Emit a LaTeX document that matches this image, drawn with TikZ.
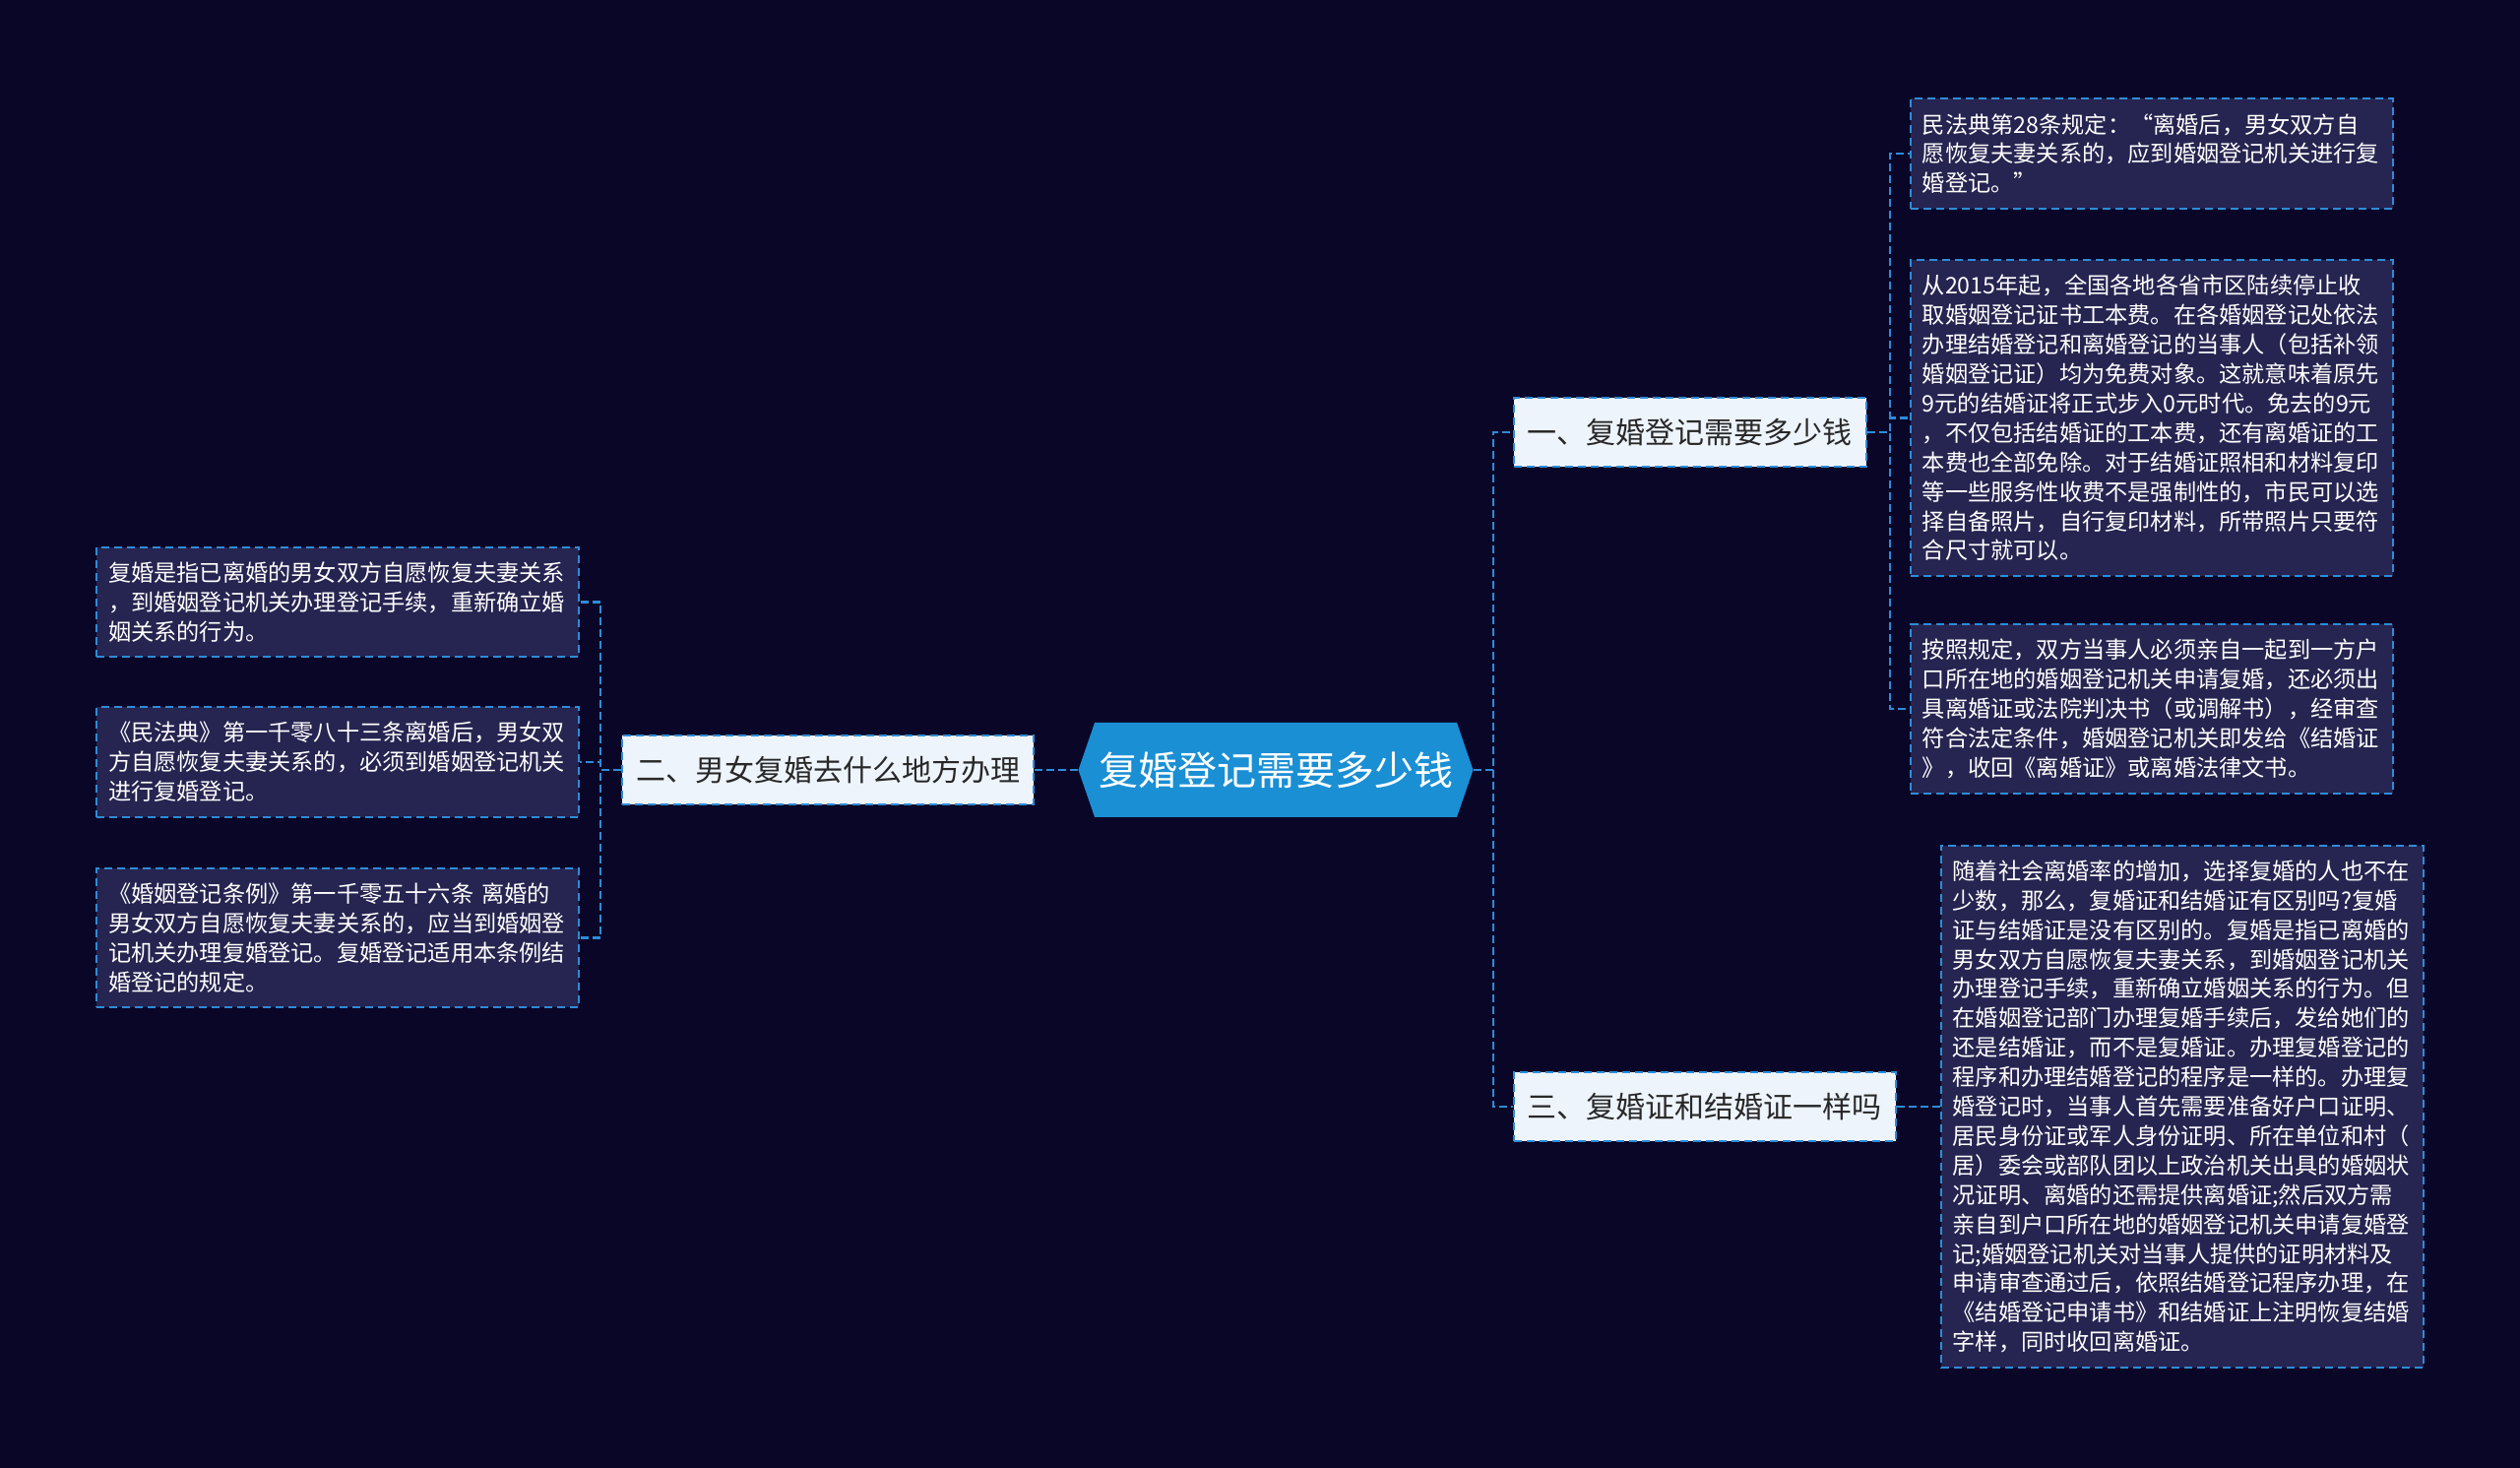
\documentclass[tikz,border=0pt]{standalone}
\usepackage{fontspec}
\newfontfamily\cjk{Noto Sans CJK SC}
\usetikzlibrary{positioning,shapes.symbols}

\definecolor{bgnavy}{RGB}{10,6,40}
\definecolor{leafbg}{RGB}{38,36,80}
\definecolor{linkblue}{RGB}{45,140,215}
\definecolor{rootblue}{RGB}{26,143,212}
\definecolor{branchbg}{RGB}{238,244,252}
\definecolor{branchtext}{RGB}{40,40,40}

\tikzset{
  root/.style={signal, signal to=west and east, signal pointer angle=142,
    fill=rootblue, text=white, font=\cjk\fontsize{20pt}{24pt}\selectfont,
    minimum width=200.5pt, minimum height=48pt, inner sep=0pt},
  branch/.style={draw=linkblue, dash pattern=on 4pt off 2.5pt, line width=0.9pt,
    fill=branchbg, text=branchtext, font=\cjk\fontsize{15pt}{18pt}\selectfont,
    minimum height=35pt, inner xsep=7pt, inner ysep=0pt},
  leaf/.style={draw=linkblue, dash pattern=on 4pt off 2.5pt, line width=0.9pt,
    fill=leafbg, text=white, font=\cjk\fontsize{11.6pt}{14.95pt}\selectfont,
    text width=233pt, align=left, inner xsep=6pt, inner ysep=7.5pt, anchor=west},
  link/.style={draw=linkblue, line width=1.1pt, dash pattern=on 4pt off 2pt},
}

\begin{document}
\begin{tikzpicture}[x=0.5pt,y=-0.5pt]
	\fill[bgnavy] (0,0) rectangle (2560,1491);
	\useasboundingbox (0,0) rectangle (2560,1491);

	\node[root]   (root) at (1296,782)                       {复婚登记需要多少钱};
	\node[branch] (b1) [right=20pt of root, yshift=171.5pt]  {一、复婚登记需要多少钱};
	\node[branch] (b2) [left=22pt of root]                   {二、男女复婚去什么地方办理};
	\node[branch] (b3) [right=20pt of root, yshift=-171pt]   {三、复婚证和结婚证一样吗};

	\node[leaf] (r1a) at (1940,156) {民法典第28条规定：“离婚后，男女双方自\\愿恢复夫妻关系的，应到婚姻登记机关进行复\\婚登记。”};
	\node[leaf] (r1b) at (1940,424.5) {从2015年起，全国各地各省市区陆续停止收\\取婚姻登记证书工本费。在各婚姻登记处依法\\办理结婚登记和离婚登记的当事人（包括补领\\婚姻登记证）均为免费对象。这就意味着原先\\9元的结婚证将正式步入0元时代。免去的9元\\，不仅包括结婚证的工本费，还有离婚证的工\\本费也全部免除。对于结婚证照相和材料复印\\等一些服务性收费不是强制性的，市民可以选\\择自备照片，自行复印材料，所带照片只要符\\合尺寸就可以。};
	\node[leaf] (r1c) at (1940,720) {按照规定，双方当事人必须亲自一起到一方户\\口所在地的婚姻登记机关申请复婚，还必须出\\具离婚证或法院判决书（或调解书），经审查\\符合法定条件，婚姻登记机关即发给《结婚证\\》，收回《离婚证》或离婚法律文书。};
	\node[leaf] (r3a) [right=22pt of b3] {随着社会离婚率的增加，选择复婚的人也不在\\少数，那么，复婚证和结婚证有区别吗?复婚\\证与结婚证是没有区别的。复婚是指已离婚的\\男女双方自愿恢复夫妻关系，到婚姻登记机关\\办理登记手续，重新确立婚姻关系的行为。但\\在婚姻登记部门办理复婚手续后，发给她们的\\还是结婚证，而不是复婚证。办理复婚登记的\\程序和办理结婚登记的程序是一样的。办理复\\婚登记时，当事人首先需要准备好户口证明、\\居民身份证或军人身份证明、所在单位和村（\\居）委会或部队团以上政治机关出具的婚姻状\\况证明、离婚的还需提供离婚证;然后双方需\\亲自到户口所在地的婚姻登记机关申请复婚登\\记;婚姻登记机关对当事人提供的证明材料及\\申请审查通过后，依照结婚登记程序办理，在\\《结婚登记申请书》和结婚证上注明恢复结婚\\字样，同时收回离婚证。};
	\node[leaf, anchor=east] (l1) at (589,611.5) {复婚是指已离婚的男女双方自愿恢复夫妻关系\\，到婚姻登记机关办理登记手续，重新确立婚\\姻关系的行为。};
	\node[leaf, anchor=east] (l2) at (589,774) {《民法典》第一千零八十三条离婚后，男女双\\方自愿恢复夫妻关系的，必须到婚姻登记机关\\进行复婚登记。};
	\node[leaf, anchor=east] (l3) at (589,952.5) {《婚姻登记条例》第一千零五十六条 离婚的\\男女双方自愿恢复夫妻关系的，应当到婚姻登\\记机关办理复婚登记。复婚登记适用本条例结\\婚登记的规定。};

	\draw[link] (root.east) -- ++(20,0) coordinate (rs) |- (b1.west);
	\draw[link] (rs) |- (b3.west);
	\draw[link] (root.west) -- (b2.east);
	\draw[link] (b3.east) -- (r3a.west);
	\foreach \n in {r1a,r1b,r1c}
		\draw[link] (b1.east) -- ++(23,0) |- (\n.west);
	\foreach \n in {l1,l2,l3}
		\draw[link] (b2.west) -- ++(-21,0) |- (\n.east);
\end{tikzpicture}
\end{document}
